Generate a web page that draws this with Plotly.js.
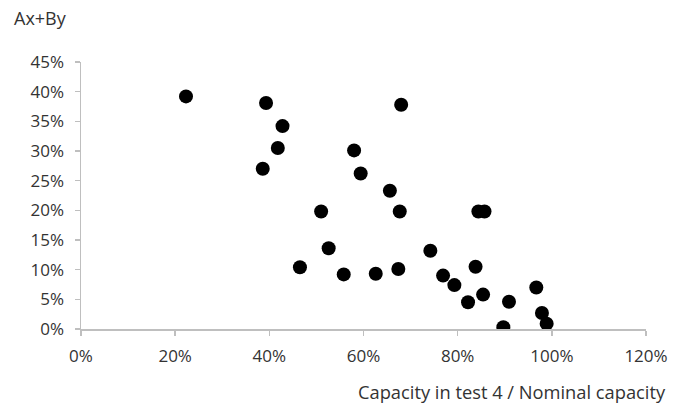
<!DOCTYPE html>
<html>
<head>
<meta charset="utf-8">
<script src="https://cdn.plot.ly/plotly-3.0.1.min.js"></script>
<style>html,body{margin:0;padding:0;background:#fff;}#chart{width:683px;height:405px;}</style>
</head>
<body>
<div id="chart"></div>
<script>
// Capacity in test 4 / Nominal capacity (fraction)
var capacityRatio = [0.223, 0.393, 0.428, 0.418, 0.386, 0.580, 0.594, 0.656, 0.510, 0.526,
                     0.465, 0.558, 0.626, 0.680, 0.677, 0.674, 0.844, 0.857, 0.742, 0.838,
                     0.769, 0.793, 0.822, 0.854, 0.909, 0.897, 0.967, 0.979, 0.989];
// Ax+By (fraction)
var axBy = [0.392, 0.381, 0.342, 0.305, 0.270, 0.301, 0.262, 0.233, 0.198, 0.136,
            0.104, 0.092, 0.093, 0.378, 0.198, 0.101, 0.198, 0.198, 0.132, 0.105,
            0.090, 0.074, 0.045, 0.058, 0.046, 0.003, 0.070, 0.027, 0.009];
var xTickVals = [0, 0.2, 0.4, 0.6, 0.8, 1.0, 1.2];
var yTickVals = [0, 0.05, 0.10, 0.15, 0.20, 0.25, 0.30, 0.35, 0.40, 0.45];
var yAxisLabel = "Ax+By";
var xAxisLabel = "Capacity in test 4 / Nominal capacity";

var font = "'Open Sans', 'Noto Sans', sans-serif";
var axisColor = "#bfbfbf";
var textColor = "#333333";

var trace = {
  x: capacityRatio,
  y: axBy,
  mode: "markers",
  type: "scatter",
  marker: {color: "#000000", size: 14},
  hoverinfo: "x+y"
};

var layout = {
  width: 683, height: 405,
  margin: {l: 81, r: 37, t: 62, b: 75.5},
  paper_bgcolor: "#ffffff", plot_bgcolor: "#ffffff",
  showlegend: false,
  font: {family: font, color: textColor, size: 17},
  xaxis: {
    range: [0, 1.2], tickvals: xTickVals, tickformat: ".0%",
    showgrid: false, zeroline: false, showline: true, linecolor: axisColor, linewidth: 1.5,
    ticks: "outside", ticklen: 5, tickcolor: axisColor, tickwidth: 1.5,
    ticklabelstandoff: 6,
    tickfont: {family: font, size: 17, color: textColor}
  },
  yaxis: {
    range: [0, 0.45], tickvals: yTickVals, tickformat: ".0%",
    showgrid: false, zeroline: false, showline: true, linecolor: axisColor, linewidth: 1.5,
    ticks: "outside", ticklen: 5, tickcolor: axisColor, tickwidth: 1.5,
    ticklabelstandoff: 7,
    tickfont: {family: font, size: 17, color: textColor}
  },
  annotations: [
    {text: yAxisLabel, xref: "paper", yref: "paper", x: -0.122, y: 1.164, xanchor: "left", yanchor: "middle",
     showarrow: false, font: {family: font, size: 18, color: textColor}},
    {text: xAxisLabel, xref: "paper", yref: "paper", x: 1.039, y: -0.234, xanchor: "right", yanchor: "middle",
     showarrow: false, font: {family: font, size: 18.3, color: textColor}}
  ]
};

Plotly.newPlot("chart", [trace], layout, {displayModeBar: false, staticPlot: true});
</script>
</body>
</html>
